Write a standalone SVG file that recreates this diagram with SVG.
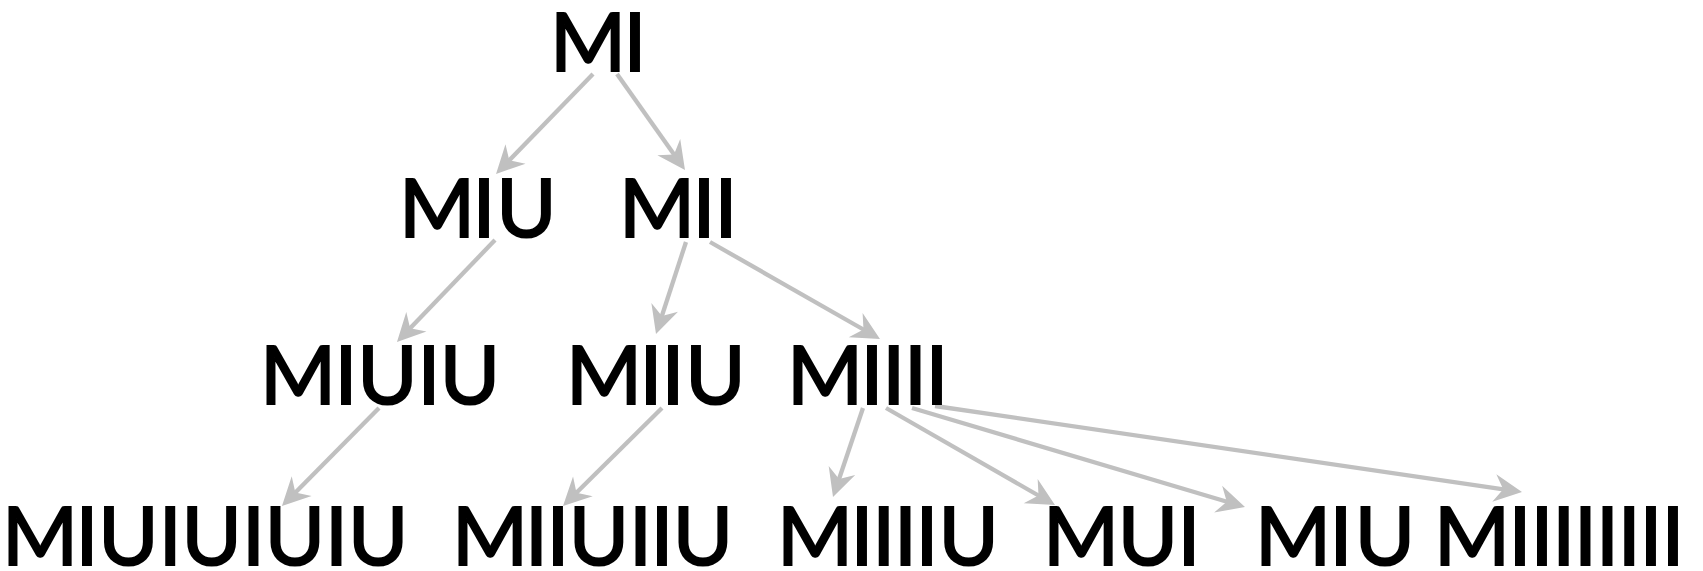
<svg xmlns="http://www.w3.org/2000/svg" width="1703" height="571" viewBox="0 0 1703 571">
<style>
.lbl{font-family:Lato,"Open Sans","Liberation Sans",sans-serif;font-size:82px;fill:#000;stroke:#000;stroke-width:2;text-anchor:middle}
.edge{stroke:#c0c0c0;stroke-width:4.3;fill:none;marker-end:url(#ah)}
</style>
<defs>
<marker id="ah" markerUnits="userSpaceOnUse" viewBox="-20 -15 31 30" markerWidth="31" markerHeight="30" refX="0" refY="0" orient="auto">
<path d="M10,0 L-18,-14 L-9,0 L-18,14 Z" fill="#c0c0c0"/>
</marker>
</defs>
<rect width="1703" height="571" fill="#fff"/>
<g id="connectors">
<line class="edge" x1="593" y1="74" x2="503" y2="166.8"/>
<line class="edge" x1="617" y1="74" x2="679.2" y2="161.8"/>
<line class="edge" x1="495" y1="240" x2="403.9" y2="334.8"/>
<line class="edge" x1="686" y1="242" x2="659.1" y2="324.5"/>
<line class="edge" x1="710" y1="242" x2="871.3" y2="334"/>
<line class="edge" x1="379" y1="408" x2="289" y2="498.9"/>
<line class="edge" x1="662" y1="408" x2="570.1" y2="499"/>
<line class="edge" x1="863" y1="408" x2="836.2" y2="487.5"/>
<line class="edge" x1="886" y1="408" x2="1046.3" y2="500"/>
<line class="edge" x1="912" y1="408" x2="1235.4" y2="504.2"/>
<line class="edge" x1="935" y1="406" x2="1512.1" y2="490.6"/>
</g>
<g id="n-MI"><text class="lbl" x="588 635" y="71">MI</text></g>
<g id="n-MIU"><text class="lbl" x="437 484 526.5" y="237">MIU</text></g>
<g id="n-MII"><text class="lbl" x="657 704 726" y="237">MII</text></g>
<g id="n-MIUIU"><text class="lbl" x="298 346 387.5 429 470" y="404">MIUIU</text></g>
<g id="n-MIIU"><text class="lbl" x="604 651 673 715.5" y="404">MIIU</text></g>
<g id="n-MIIII"><text class="lbl" x="825 872 893.7 915.4 937.1" y="404">MIIII</text></g>
<g id="n-MIUIUIUIU"><text class="lbl" x="40 87 128.5 170.2 211.7 253.4 294.9 336.6 378.1" y="565">MIUIUIUIU</text></g>
<g id="n-MIIUIIU"><text class="lbl" x="490 536.5 558 599 640.5 662 703" y="565">MIIUIIU</text></g>
<g id="n-MIIIIU"><text class="lbl" x="815 862 883.7 905.4 927.1 968.6" y="565">MIIIIU</text></g>
<g id="n-MUI"><text class="lbl" x="1081 1148 1189" y="565">MUI</text></g>
<g id="n-MIU2"><text class="lbl" x="1293 1341 1385" y="565">MIU</text></g>
<g id="n-MIIIIIIII"><text class="lbl" x="1472 1520 1541.9 1563.7 1585.6 1607.4 1629.3 1651.1 1673" y="565">MIIIIIIII</text></g>
</svg>
